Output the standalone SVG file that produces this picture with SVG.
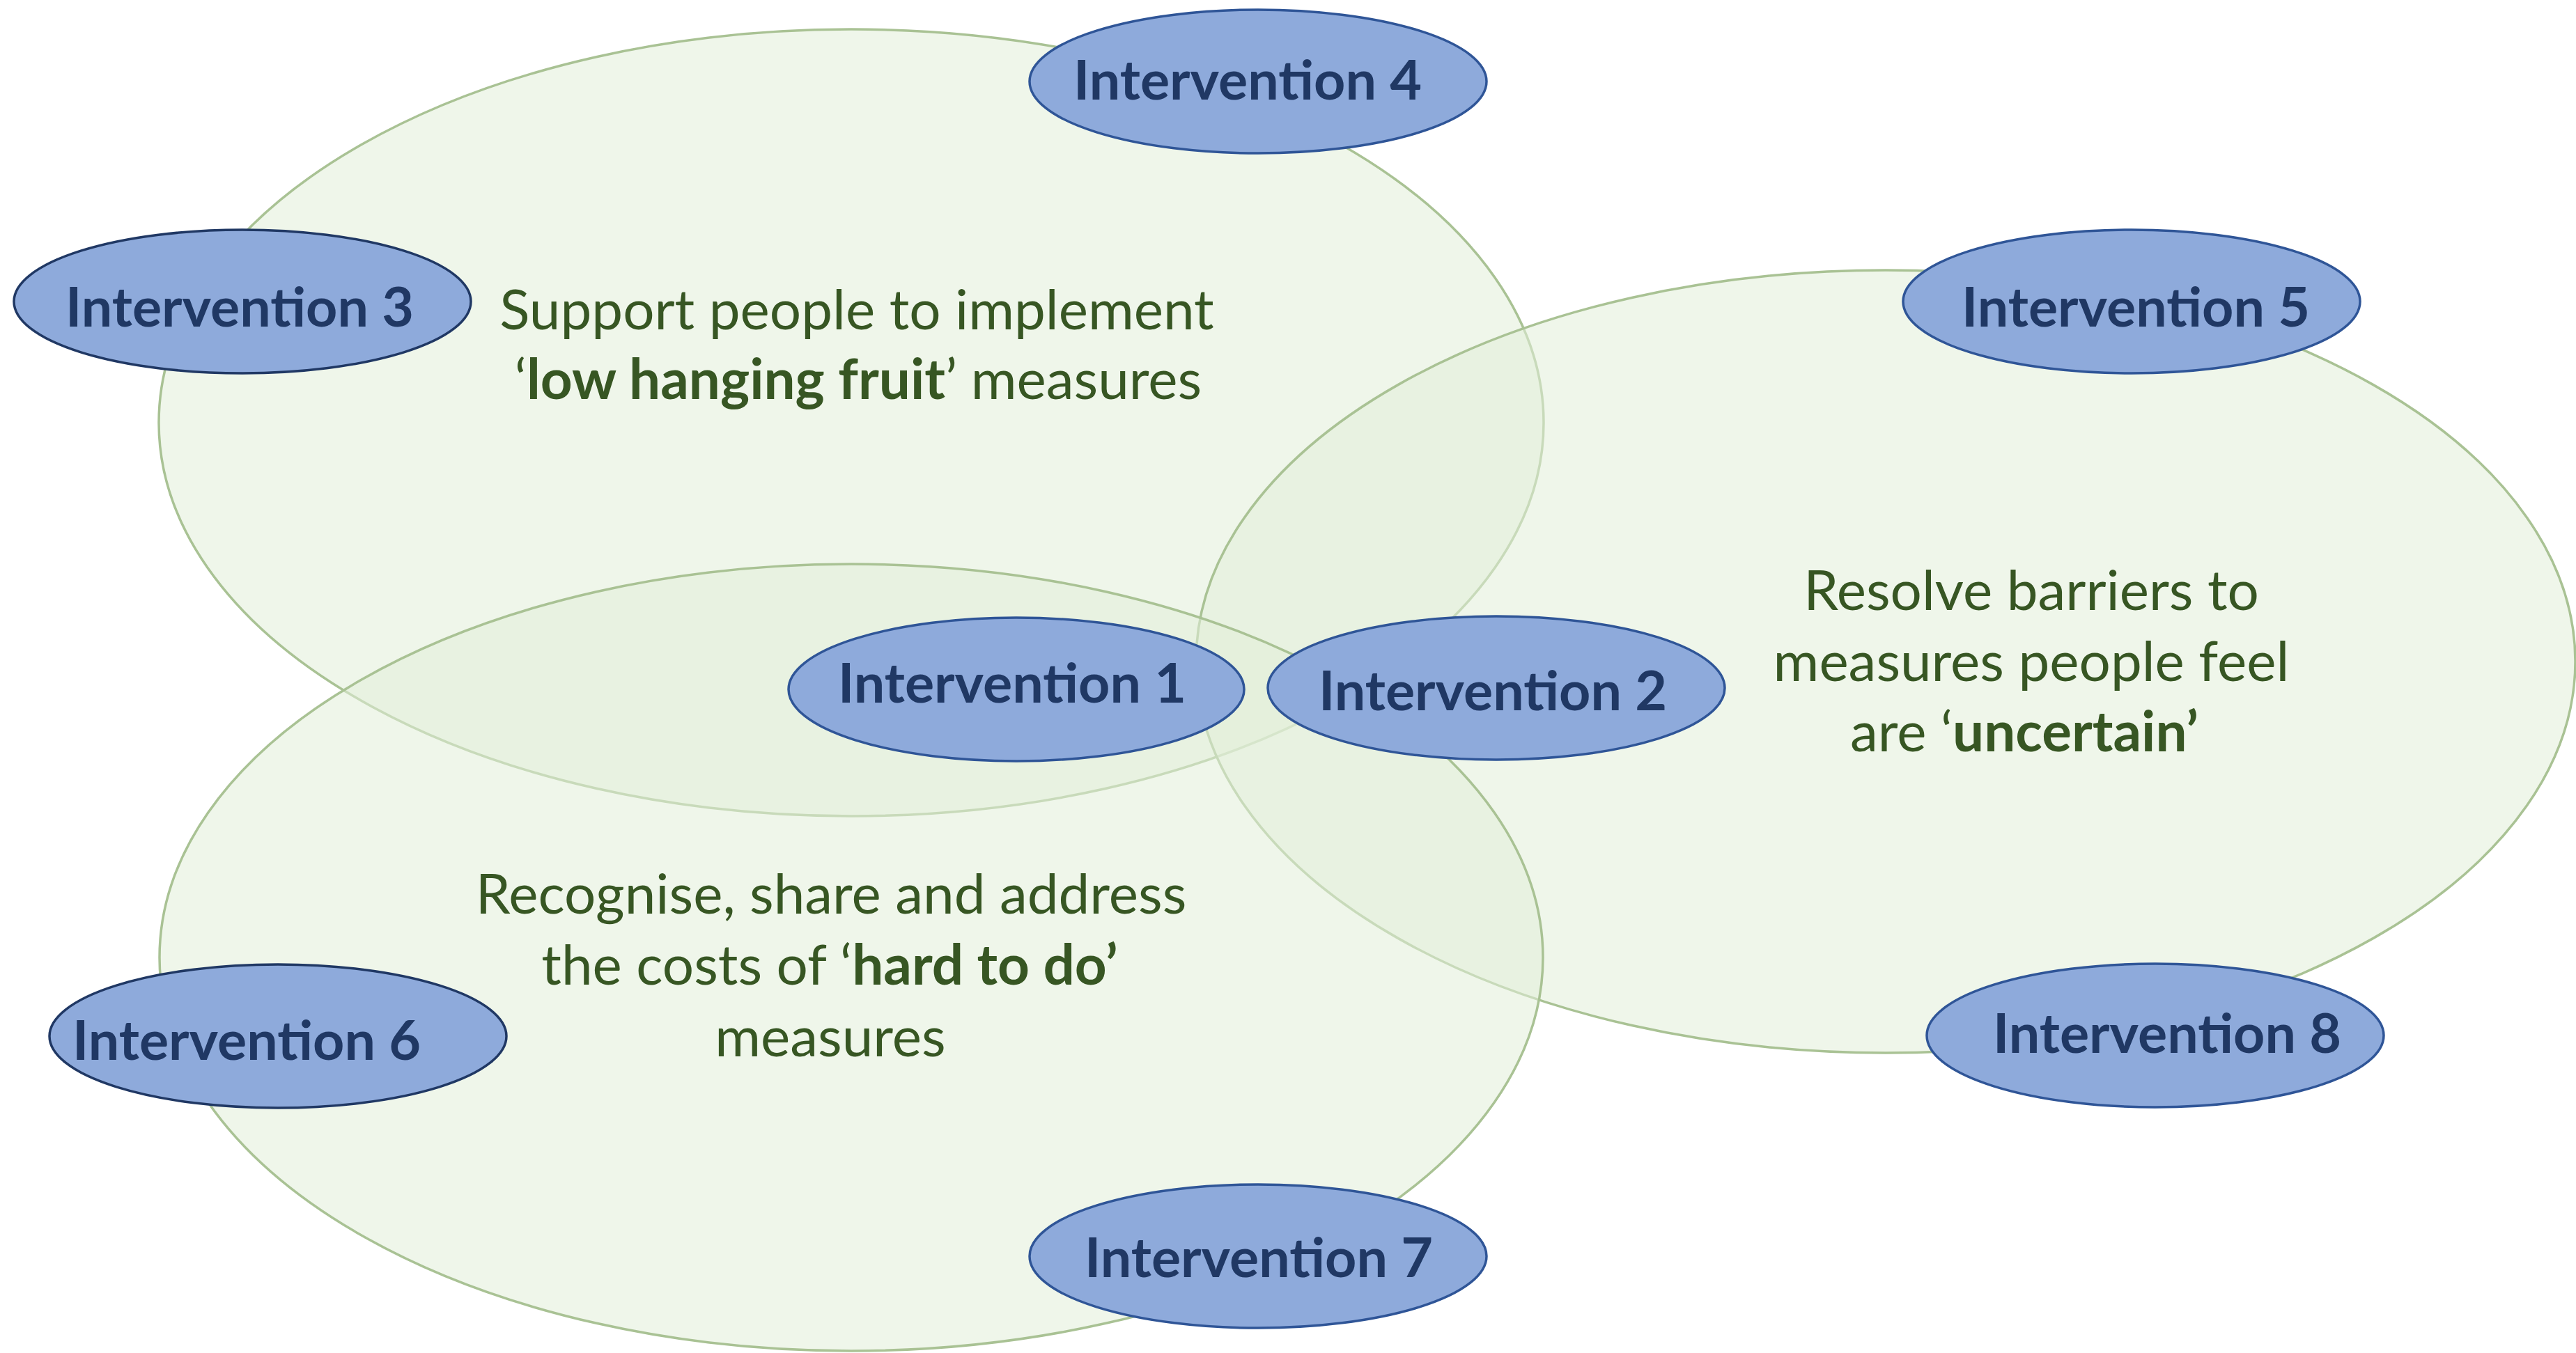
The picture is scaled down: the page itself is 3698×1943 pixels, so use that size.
<svg xmlns="http://www.w3.org/2000/svg" width="3698" height="1943" viewBox="0 0 3698 1943">
  <style>
    .area { fill: #E2EFD9; fill-opacity: 0.55; stroke: #A9C294; stroke-width: 3.5; }
    .theme { font-family: Lato, "Open Sans", "Liberation Sans", sans-serif; font-size: 80px; fill: #375623; text-anchor: middle; }
    .theme .b { font-weight: bold; }
    .node ellipse { fill: #8EAADB; stroke: #2F5597; stroke-width: 3.5; }
    .node.dark ellipse { stroke: #203864; }
    .node text { font-family: Lato, "Open Sans", "Liberation Sans", sans-serif; font-size: 79px; font-weight: bold; fill: #203864; text-anchor: middle; }
  </style>

  <!-- Three overlapping focus areas -->
  <g id="area-low-hanging-fruit">
    <ellipse class="area" cx="1222" cy="607" rx="994" ry="565"/>
  </g>
  <g id="area-uncertain">
    <ellipse class="area" cx="2707" cy="950" rx="990" ry="562"/>
  </g>
  <g id="area-hard-to-do">
    <ellipse class="area" cx="1222" cy="1375" rx="993" ry="565"/>
  </g>

  <!-- Area captions -->
  <g id="caption-low-hanging-fruit" class="theme">
    <text x="1230" y="473">Support people to implement</text>
    <text x="1232" y="573">‘<tspan class="b">low hanging fruit</tspan>’ measures</text>
  </g>
  <g id="caption-uncertain" class="theme">
    <text x="2916" y="876">Resolve barriers to</text>
    <text x="2916" y="978">measures people feel</text>
    <text x="2906" y="1079">are ‘<tspan class="b">uncertain’</tspan></text>
  </g>
  <g id="caption-hard-to-do" class="theme">
    <text x="1193" y="1312">Recognise, share and address</text>
    <text x="1191" y="1414">the costs of ‘<tspan class="b">hard to do’</tspan></text>
    <text x="1192" y="1517">measures</text>
  </g>

  <!-- Interventions -->
  <g id="intervention-1" class="node">
    <ellipse cx="1459" cy="990" rx="327" ry="103"/>
    <text x="1453" y="1009">Intervention 1</text>
  </g>
  <g id="intervention-2" class="node">
    <ellipse cx="2148" cy="988" rx="328" ry="103"/>
    <text x="2143" y="1020">Intervention 2</text>
  </g>
  <g id="intervention-3" class="node dark">
    <ellipse cx="348" cy="433" rx="328" ry="103"/>
    <text x="344" y="469">Intervention 3</text>
  </g>
  <g id="intervention-4" class="node">
    <ellipse cx="1806" cy="117" rx="328" ry="103"/>
    <text x="1791" y="143">Intervention 4</text>
  </g>
  <g id="intervention-5" class="node">
    <ellipse cx="3060" cy="433" rx="328" ry="103"/>
    <text x="3066" y="469">Intervention 5</text>
  </g>
  <g id="intervention-6" class="node dark">
    <ellipse cx="399" cy="1488" rx="328" ry="103"/>
    <text x="354" y="1522">Intervention 6</text>
  </g>
  <g id="intervention-7" class="node">
    <ellipse cx="1806" cy="1804" rx="328" ry="103"/>
    <text x="1807" y="1834">Intervention 7</text>
  </g>
  <g id="intervention-8" class="node">
    <ellipse cx="3094" cy="1487" rx="328" ry="103"/>
    <text x="3111" y="1512">Intervention 8</text>
  </g>
</svg>
